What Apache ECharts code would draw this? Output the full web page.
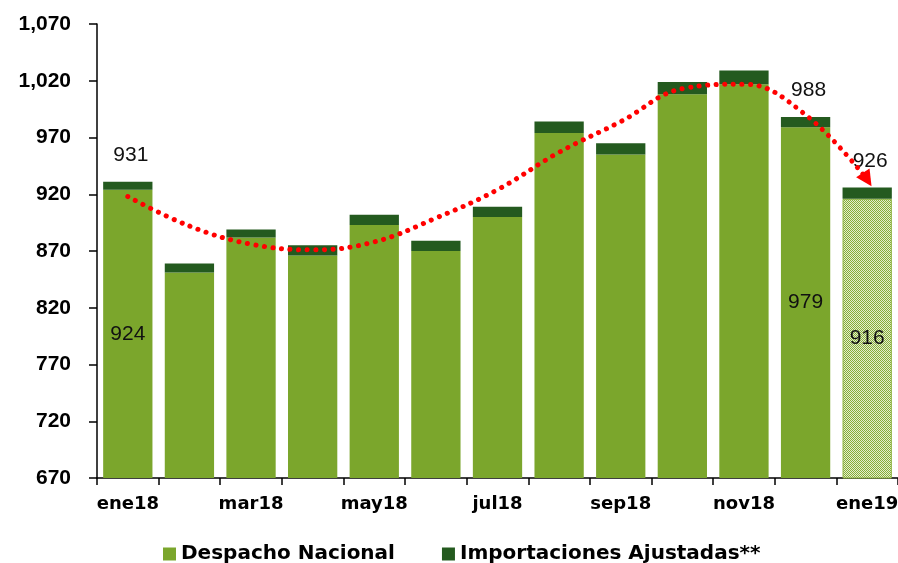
<!DOCTYPE html>
<html>
<head>
<meta charset="utf-8">
<title>Despacho Nacional e Importaciones</title>
<script src="https://cdn.jsdelivr.net/npm/echarts@6/dist/echarts.min.js"></script>
<style>
html, body { margin: 0; padding: 0; background: #fff; }
#chart { width: 898px; height: 563px; }
</style>
</head>
<body>
<div id="chart"></div>
<script>
// datos
var meses = ['ene18','feb18','mar18','abr18','may18','jun18','jul18','ago18','sep18','oct18','nov18','dic18','ene19'];
var despacho = [924, 851, 882, 866, 893, 870, 900, 974, 955, 1008, 1017, 979, 916];
var importaciones = [7, 8, 7, 9, 9, 9, 9, 10, 10, 11, 12, 9, 10];
var tendencia = [918, 892, 876, 871, 878, 899, 924, 957, 984, 1013, 1017, 990, 933];
var ejeY = { min: 670, max: 1070, interval: 50 };

var fuente = "'Liberation Sans', Arial, sans-serif";
var fuenteAncha = "'DejaVu Sans', Verdana, sans-serif";
var verdeClaro = '#7BA62C';
var verdeOscuro = '#245A1F';

// trama punteada para el ultimo mes (dato preliminar)
var trama = document.createElement('canvas');
trama.width = 2; trama.height = 2;
var tctx = trama.getContext('2d');
tctx.fillStyle = '#E4EECF';
tctx.fillRect(0, 0, 2, 2);
tctx.fillStyle = '#86AD38';
tctx.fillRect(0, 0, 1, 1);
tctx.fillRect(1, 1, 1, 1);

var ultimo = meses.length - 1;
var etiquetaDentro = { show: true, position: 'inside', color: '#111', fontSize: 21, fontFamily: fuente };
var etiquetaArriba = { show: true, position: 'top', distance: 16, offset: [3, 0], color: '#111', fontSize: 21, fontFamily: fuente };

var despData = despacho.map(function (v, i) {
    var d = { value: v };
    if (i === 0 || i === 11 || i === ultimo) {
        d.label = etiquetaDentro;
    }
    if (i === ultimo) {
        d.itemStyle = { color: { image: trama, repeat: 'repeat' }, borderColor: '#8DB43E', borderWidth: 1 };
    }
    return d;
});

var impData = importaciones.map(function (v, i) {
    var d = { value: v };
    if (i === 0 || i === 11 || i === ultimo) {
        d.label = Object.assign({}, etiquetaArriba, {
            formatter: String(despacho[i] + v)
        });
    }
    return d;
});

var tendData = tendencia.map(function (v, i) {
    if (i === ultimo) {
        return { value: v, symbol: 'triangle', symbolSize: [16, 16], symbolRotate: -147 };
    }
    return v;
});

option = {
    animation: false,
    textStyle: { fontFamily: fuente },
    grid: { left: 97, right: 0, top: 24, bottom: 85, outerBoundsMode: 'none' },
    legend: {
        data: ['Despacho Nacional', 'Importaciones Ajustadas**'],
        left: 158,
        top: 539,
        icon: 'rect',
        itemWidth: 13,
        itemHeight: 13,
        itemGap: 47,
        textStyle: { fontSize: 20, fontWeight: 'bold', color: '#000', fontFamily: fuenteAncha }
    },
    xAxis: {
        type: 'category',
        data: meses,
        axisLine: { lineStyle: { color: '#000', width: 1.5 } },
        axisTick: { show: true, interval: 0, length: 7, lineStyle: { color: '#000', width: 1.5 } },
        axisLabel: { interval: 1, margin: 17, color: '#000', fontSize: 18, fontWeight: 'bold', fontFamily: fuenteAncha }
    },
    yAxis: {
        type: 'value',
        min: ejeY.min,
        max: ejeY.max,
        interval: ejeY.interval,
        splitLine: { show: false },
        axisLine: { show: true, lineStyle: { color: '#000', width: 1.5 } },
        axisTick: { show: true, length: 8, lineStyle: { color: '#000', width: 1.5 } },
        axisLabel: {
            margin: 26,
            color: '#000',
            fontSize: 21,
            fontWeight: 'bold',
            fontFamily: fuente,
            formatter: function (v) { return String(v).replace(/\B(?=(\d{3})+(?!\d))/g, ','); }
        }
    },
    series: [
        {
            name: 'Despacho Nacional',
            type: 'bar',
            stack: 'total',
            barCategoryGap: '20%',
            itemStyle: { color: verdeClaro },
            data: despData
        },
        {
            name: 'Importaciones Ajustadas**',
            type: 'bar',
            stack: 'total',
            itemStyle: { color: verdeOscuro },
            data: impData
        },
        {
            name: 'tendencia',
            type: 'line',
            smooth: 0.4,
            z: 5,
            symbol: 'none',
            showSymbol: true,
            itemStyle: { color: '#FF0000' },
            lineStyle: { color: '#FF0000', width: 5, type: [0.1, 8.5], cap: 'round' },
            data: tendData
        }
    ]
};

var myChart = echarts.init(document.getElementById('chart'));
myChart.setOption(option);
</script>
</body>
</html>
